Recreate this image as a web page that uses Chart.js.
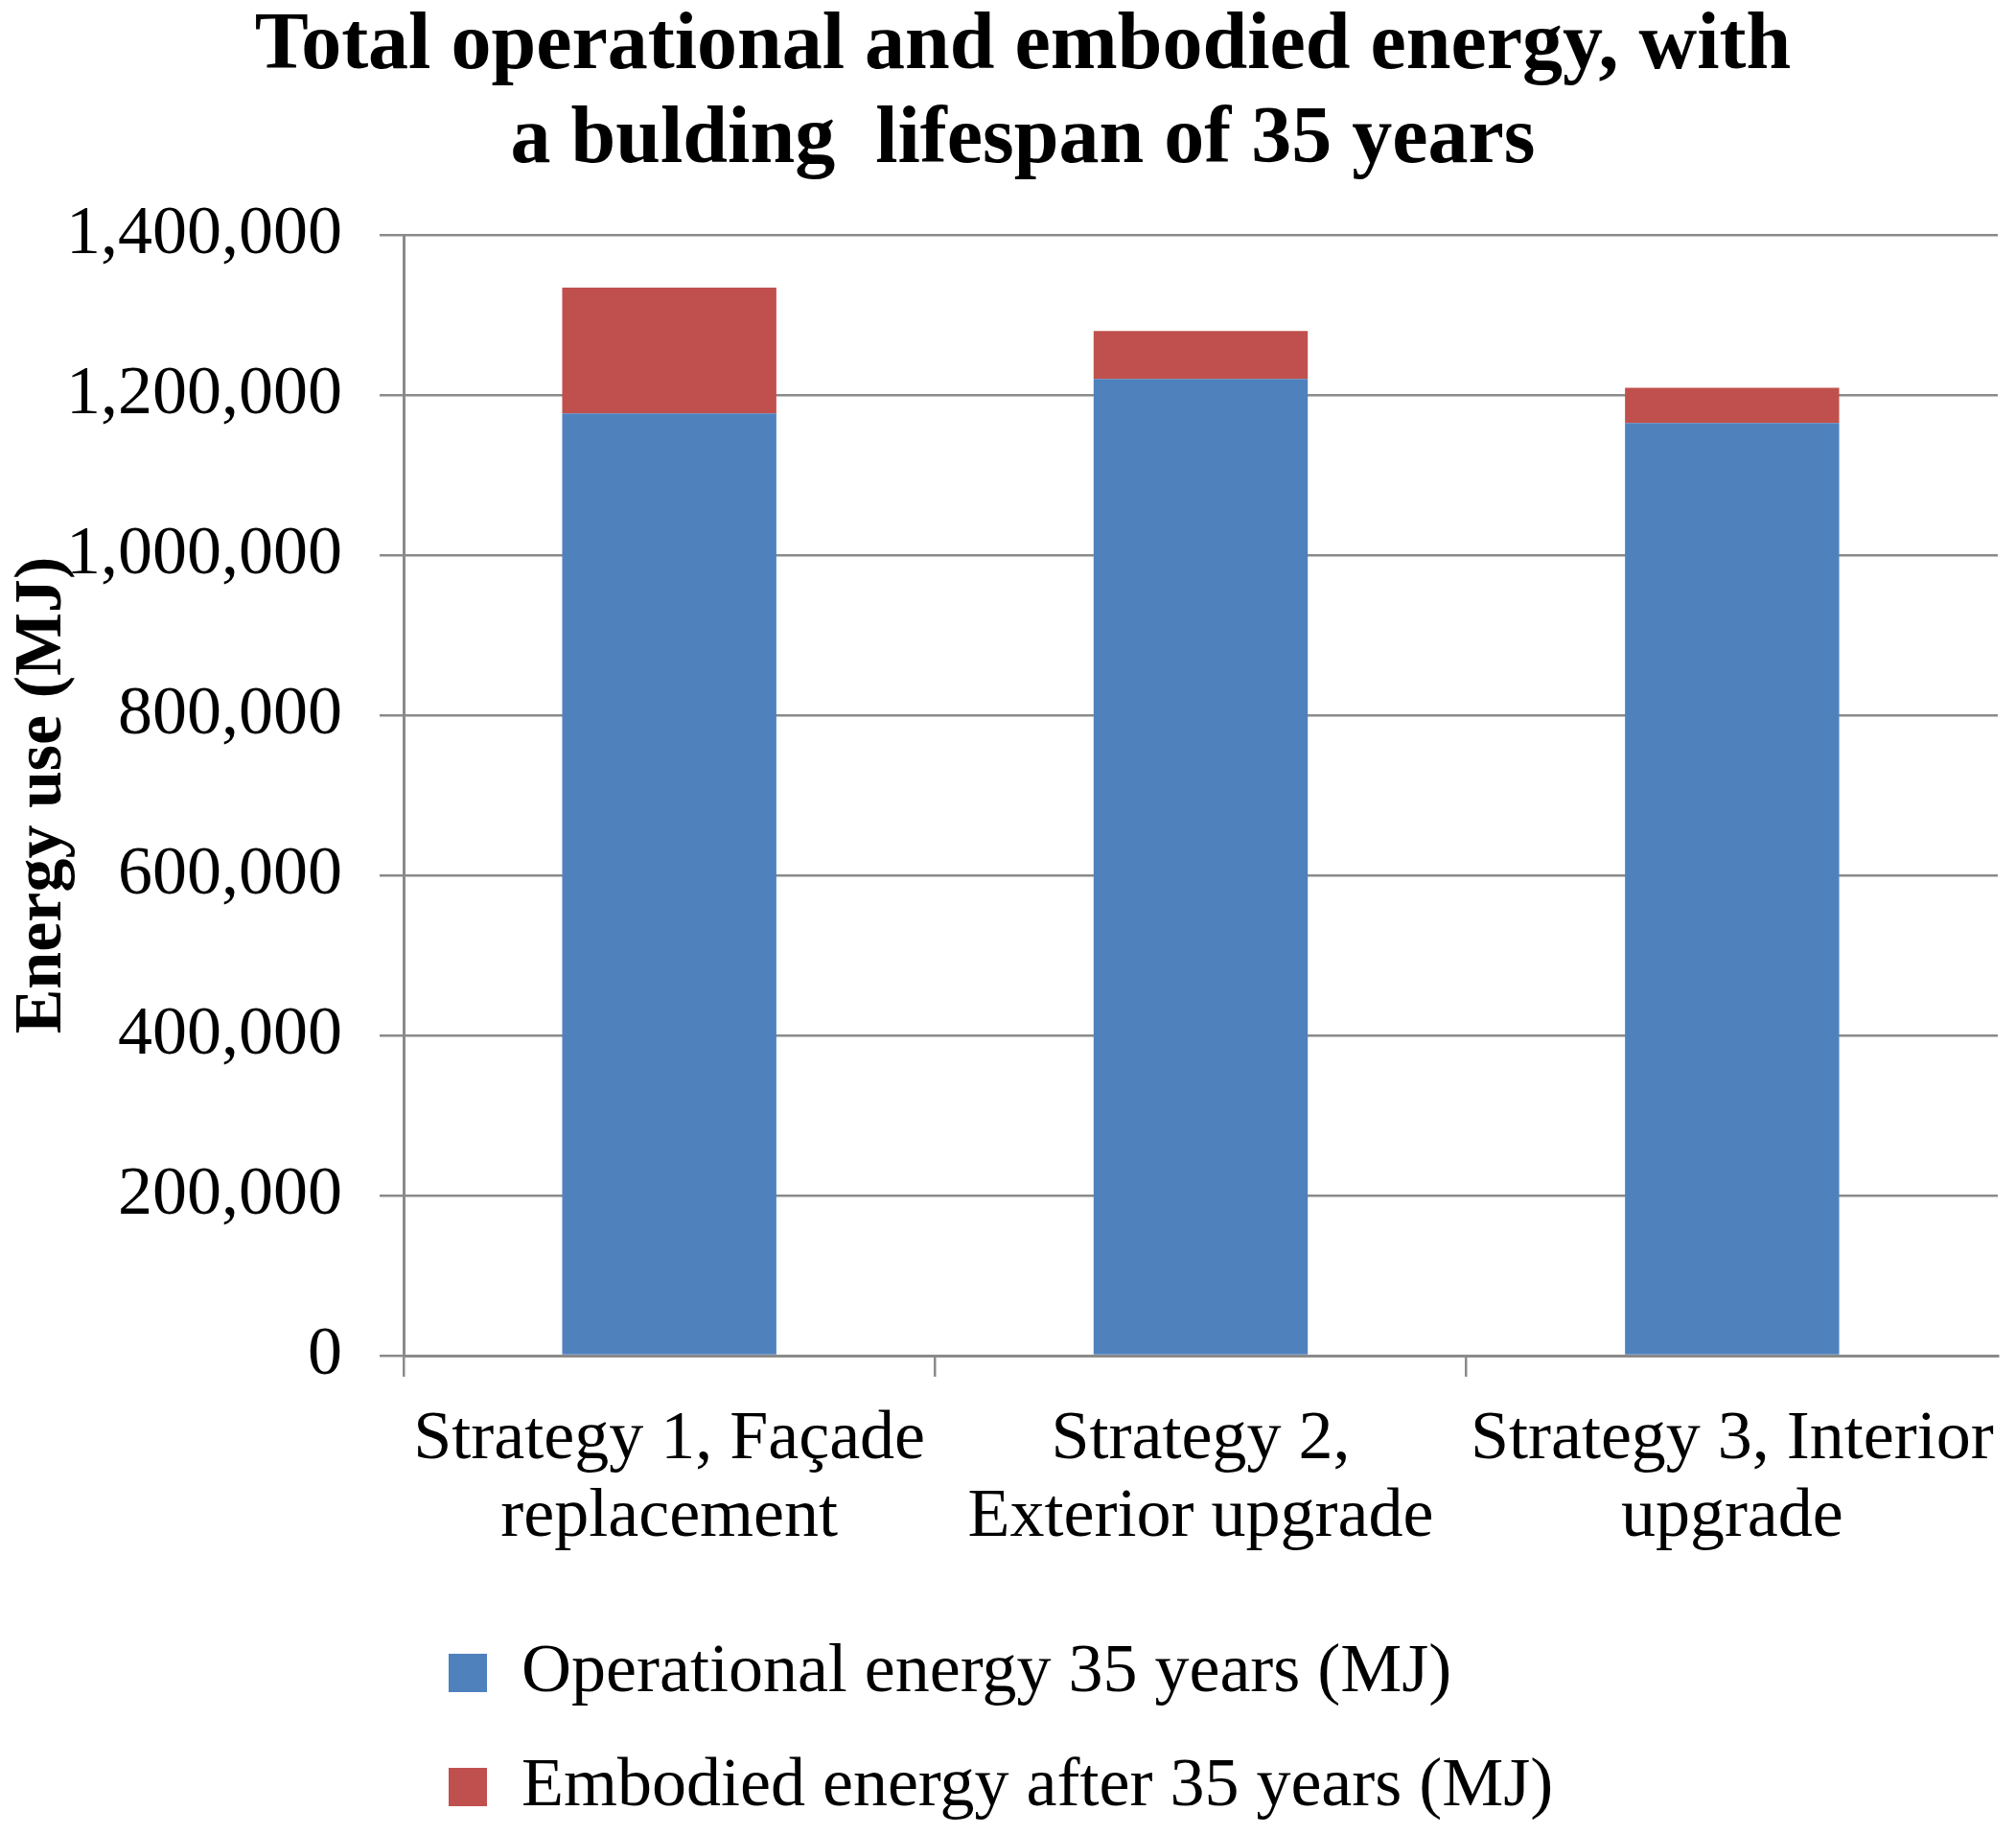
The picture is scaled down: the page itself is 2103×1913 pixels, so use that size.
<!DOCTYPE html>
<html>
<head>
<meta charset="utf-8">
<script src="https://cdn.jsdelivr.net/npm/chart.js@4.4.0/dist/chart.umd.min.js"></script>
<style>
  html, body { margin: 0; padding: 0; background: #fff; }
  #wrap { width: 2103px; height: 1913px; }
</style>
</head>
<body>
<div id="wrap"><canvas id="chart" width="2103" height="1913"></canvas></div>
<script>
// values (MJ)
const strategies = [
    ['Strategy 1, Façade', 'replacement'],
    ['Strategy 2,', 'Exterior upgrade'],
    ['Strategy 3, Interior', 'upgrade']
];
const operationalEnergy = [1177000, 1220000, 1165000];
const embodiedEnergy = [157000, 60000, 44000];
const yTickValues = [0, 200000, 400000, 600000, 800000, 1000000, 1200000, 1400000];

const serif = '"Liberation Serif", "Times New Roman", serif';
const gridGray = '#8a8a8a';

new Chart(document.getElementById('chart'), {
    type: 'bar',
    data: {
        labels: strategies,
        datasets: [
            {
                label: 'Operational energy 35 years (MJ)',
                data: operationalEnergy,
                backgroundColor: '#4f81bd',
                categoryPercentage: 1,
                barPercentage: 0.403
            },
            {
                label: 'Embodied energy after 35 years (MJ)',
                data: embodiedEnergy,
                backgroundColor: '#c0504d',
                categoryPercentage: 1,
                barPercentage: 0.403
            }
        ]
    },
    options: {
        responsive: false,
        devicePixelRatio: 1,
        animation: false,
        layout: {
            padding: { left: 50, right: 19, top: 0, bottom: 3 }
        },
        scales: {
            x: {
                stacked: true,
                grid: {
                    drawOnChartArea: false,
                    tickLength: 22,
                    lineWidth: 2.5,
                    color: function (c) { return c.tick ? gridGray : 'rgba(0,0,0,0)'; }
                },
                border: { color: gridGray, width: 3 },
                ticks: {
                    color: '#000',
                    padding: 26,
                    maxRotation: 0,
                    font: { family: serif, size: 72, lineHeight: 1.125 }
                },
                afterFit: function (scale) {
                    scale.height = 248;
                    scale.paddingLeft = 0;
                    scale.paddingRight = 0;
                }
            },
            y: {
                stacked: true,
                min: 0,
                max: 1400000,
                grid: {
                    color: gridGray,
                    lineWidth: 2.5,
                    tickLength: 25
                },
                border: { color: gridGray, width: 3 },
                ticks: {
                    color: '#000',
                    padding: 39,
                    font: { family: serif, size: 72 },
                    callback: function (v) { return v.toLocaleString('en-US'); }
                },
                afterBuildTicks: function (scale) {
                    scale.ticks = yTickValues.map(function (v) { return { value: v }; });
                },
                afterFit: function (scale) { scale.width = 371; },
                title: {
                    display: true,
                    text: 'Energy use (MJ)',
                    color: '#000',
                    padding: { top: -40, bottom: 0 },
                    font: { family: serif, size: 70, weight: 'bold', lineHeight: 1 }
                }
            }
        },
        plugins: {
            title: {
                display: true,
                text: ['Total operational and embodied energy, with', 'a bulding  lifespan of 35 years'],
                color: '#000',
                padding: { top: 0, bottom: 49 },
                font: { family: serif, size: 84, weight: 'bold', lineHeight: 98 / 84 }
            },
            legend: {
                position: 'bottom',
                align: 'start',
                fullSize: false,
                labels: {
                    color: '#000',
                    boxWidth: 40,
                    boxHeight: 40,
                    padding: 47,
                    font: { family: serif, size: 72 }
                }
            },
            tooltip: { enabled: false }
        }
    }
});
</script>
</body>
</html>
